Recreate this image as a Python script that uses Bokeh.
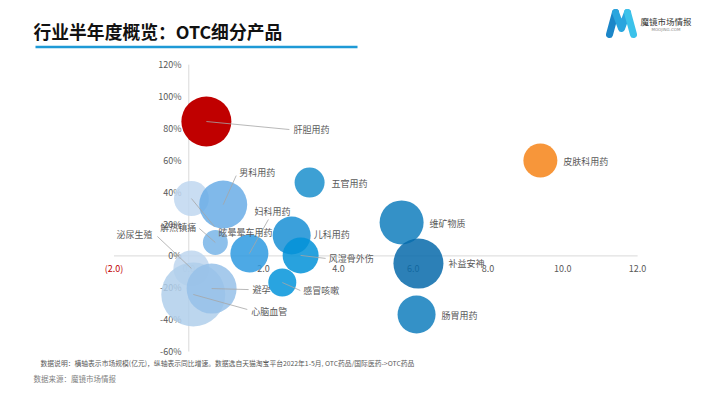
from bokeh.plotting import figure
from bokeh.models import Range1d, ColumnDataSource
from bokeh.core.properties import value
from bokeh.embed import file_html
from bokeh.resources import INLINE

# ---------------- data ----------------
categories = ["泌尿生殖", "心脑血管", "避孕", "眩晕晕车用药", "男科用药", "解热镇痛", "肝胆用药",
              "妇科用药", "儿科用药", "风湿骨外伤", "感冒咳嗽", "五官用药", "维矿物质", "补益安神",
              "肠胃用药", "皮肤科用药"]
market_size = [0.07, 0.12, 0.61, 0.07, 0.92, 0.71, 0.47, 1.62, 2.75, 2.99, 2.50, 3.23, 5.69, 6.14, 6.09, 9.40]
growth = [-7.9, -24.2, -20.5, 36.0, 32.2, 8.4, 84.3, 1.5, 12.8, 0.3, -16.7, 46.0, 21.0, -4.8, -36.8, 59.8]
bubble_value = [18, 32, 25, 17.5, 24, 12.5, 25, 19, 19, 18, 14, 15, 22, 25, 19, 17]

x_ticks = [-2, 0, 2, 4, 6, 8, 10, 12]
x_tick_labels = ["(2.0)", "0.0", "2.0", "4.0", "6.0", "8.0", "10.0", "12.0"]
y_ticks = [-60, -40, -20, 0, 20, 40, 60, 80, 100, 120]
y_tick_labels = ["-60%", "-40%", "-20%", "0%", "20%", "40%", "60%", "80%", "100%", "120%"]

# ---------------- styles / layout ----------------
colors = ["#BED6EF", "#B0CFEB", "#96C1E9", "#C0D7F0", "#6AADE6", "#79B5E7", "#C00000",
          "#2E9AE0", "#198FD5", "#0292D8", "#0494DA", "#1B8FCC", "#117EBD", "#076AAA",
          "#117EBD", "#F7963A"]
alphas = [0.85] * 16
alphas[6] = 1.0
alphas[15] = 1.0
# label offsets (px) from bubble centre, and leader-line end offsets (px) or None
label_off = [(-75, -34), (58, 17), (41, 1), (27, 34), (16, -32), (-55, -15), (87, 8),
             (5, -42), (22, -1), (28, 3), (21, 8), (22, 1), (28, 1), (30, 0), (25, 1), (23, 1)]
leader_off = [(-34, -32), (54, 15), (37, 1), (23, 28), (13, -29), (-16, -14), (83, 8),
              (19, -34), None, (25, 3), (18, 8), None, None, None, None, None]

W, H = 694, 383
SX, X0 = 37.4, 188.3   # px per unit, px of x=0
SY, Y0 = 1.594, 255.4  # px per %, px of y=0


def dx(X):
    return (X - X0) / SX


def dy(Y):
    return (Y0 - Y) / SY


FONT = value("Noto Sans CJK SC")
TXT = "#595959"

p = figure(width=W, height=H, x_range=Range1d(dx(0), dx(W)), y_range=Range1d(dy(H), dy(0)),
           x_axis_type=None, y_axis_type=None, output_backend="svg", toolbar_location=None,
           min_border=0, min_border_left=0, min_border_right=0, min_border_top=0, min_border_bottom=0)
p.grid.visible = False
p.outline_line_color = None
p.background_fill_color = "white"
p.border_fill_color = "white"

# axes lines
p.segment(x0=[x_ticks[0]], y0=[0], x1=[x_ticks[-1]], y1=[0], line_color="#D9D9D9", line_width=1)
p.segment(x0=[0], y0=[y_ticks[0]], x1=[0], y1=[y_ticks[-1]], line_color="#D9D9D9", line_width=1)

# tick labels
p.text(x=[dx(181)] * len(y_ticks), y=y_ticks, text=y_tick_labels, text_align="right",
       text_baseline="middle", text_font=FONT, text_font_size="9px", text_color=TXT)
xcols = ["#C00000"] + [TXT] * (len(x_ticks) - 1)
p.text(x=x_ticks, y=[dy(267.5)] * len(x_ticks), text=x_tick_labels, text_align="center",
       text_baseline="middle", text_font=FONT, text_font_size="9px", text_color=xcols)

# bubbles
src = ColumnDataSource(dict(x=market_size, y=growth, size=[2 * v for v in bubble_value],
                            color=colors, alpha=alphas))
p.scatter("x", "y", size="size", fill_color="color", fill_alpha="alpha", line_color=None, source=src)

# leader lines & labels
lx, ly, sx0, sy0, sx1, sy1 = [], [], [], [], [], []
for i in range(len(categories)):
    ox, oy = label_off[i]
    lx.append(market_size[i] + ox / SX)
    ly.append(growth[i] - oy / SY)
    if leader_off[i] is not None:
        ex, ey = leader_off[i]
        sx0.append(market_size[i])
        sy0.append(growth[i])
        sx1.append(market_size[i] + ex / SX)
        sy1.append(growth[i] - ey / SY)
p.segment(x0=sx0, y0=sy0, x1=sx1, y1=sy1, line_color="#A6A6A6", line_width=0.8)
p.text(x=lx, y=ly, text=categories, text_align="left", text_baseline="middle",
       text_font=FONT, text_font_size="9px", text_color=TXT)

# title & underline
p.text(x=[dx(33)], y=[dy(30)], text=["行业半年度概览：OTC细分产品"], text_align="left",
       text_baseline="middle", text_font=FONT, text_font_size="17.8px", text_font_style="bold",
       text_color="#111111")
p.segment(x0=[dx(35)], y0=[dy(46.5)], x1=[dx(357)], y1=[dy(46.5)], line_color="#1E9AD6", line_width=2.5)

# logo
p.multi_line(xs=[[dx(609), dx(615)], [dx(615), dx(621), dx(627)], [dx(627), dx(633)]],
             ys=[[dy(34), dy(12)], [dy(12), dy(28), dy(12)], [dy(12), dy(34)]],
             line_color=["#1C86C8", "#2AA5DE", "#3CC2EA"], line_width=7, line_join="round",
             line_cap="round")
p.text(x=[dx(640)], y=[dy(20)], text=["魔镜市场情报"], text_align="left", text_baseline="middle",
       text_font=FONT, text_font_size="8.5px", text_color="#333333")
p.text(x=[dx(651)], y=[dy(29)], text=["MOOJING.COM"], text_align="left", text_baseline="middle",
       text_font=value("DejaVu Sans"), text_font_size="4px", text_color="#888888")

# footnotes
p.text(x=[dx(40)], y=[dy(362)],
       text=["数据说明：横轴表示市场规模(亿元)，纵轴表示同比增速。数据选自天猫淘宝平台2022年1-5月, OTC药品/国际医药->OTC药品"],
       text_align="left", text_baseline="middle", text_font=FONT, text_font_size="6.8px", text_color=TXT)
p.text(x=[dx(33)], y=[dy(378)], text=["数据来源：魔镜市场情报"], text_align="left", text_baseline="middle",
       text_font=FONT, text_font_size="7.5px", text_color="#7F7F7F")

open("out.html", "w").write(file_html(p, INLINE))
